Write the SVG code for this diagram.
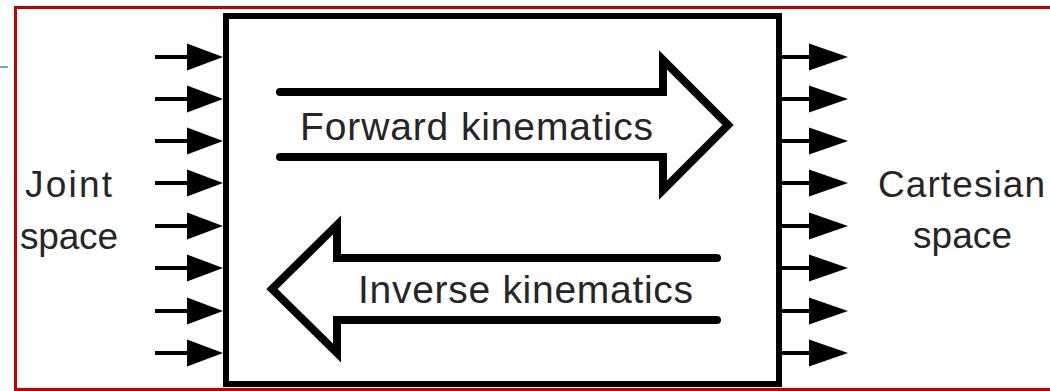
<svg xmlns="http://www.w3.org/2000/svg" width="1050" height="391" viewBox="0 0 1050 391">
<style>
.lbl{font-family:"Liberation Sans",Arial,sans-serif;font-size:39px;fill:#262626;}
.side{font-size:37px;}
.stub{stroke:#000;stroke-width:4;fill:none;}
.head{fill:#000;}
.big{stroke:#000;stroke-width:8;fill:#fff;stroke-linejoin:miter;stroke-linecap:round;}
</style>
<defs>
<g id="inArrow"><line class="stub" x1="155" y1="0" x2="190" y2="0"/><polygon class="head" points="187,-13.5 223,0 187,13.5"/></g>
<g id="outArrow"><line class="stub" x1="779" y1="0" x2="812" y2="0"/><polygon class="head" points="809,-13.5 848,0 809,13.5"/></g>
</defs>
<rect x="0" y="0" width="1050" height="391" fill="#fff"/>
<g id="frame">
<path d="M1052,7.5 L15.5,7.5 L15.5,389.5 L1052,389.5" fill="none" stroke="#c00000" stroke-width="3"/>
<line x1="0" y1="67" x2="8" y2="67" stroke="#5ab4c8" stroke-width="2"/>
</g>
<g id="connectors">
<use href="#inArrow" y="57"/>
<use href="#inArrow" y="99"/>
<use href="#inArrow" y="141"/>
<use href="#inArrow" y="183"/>
<use href="#inArrow" y="226"/>
<use href="#inArrow" y="268"/>
<use href="#inArrow" y="311"/>
<use href="#inArrow" y="353"/>
<use href="#outArrow" y="57"/>
<use href="#outArrow" y="99"/>
<use href="#outArrow" y="141"/>
<use href="#outArrow" y="183"/>
<use href="#outArrow" y="226"/>
<use href="#outArrow" y="268"/>
<use href="#outArrow" y="311"/>
<use href="#outArrow" y="353"/>
</g>
<g id="box">
<rect x="226" y="16" width="553" height="368" fill="none" stroke="#000" stroke-width="6"/>
</g>
<g id="forward">
<path class="big" d="M280,92 L663,92 L663,60 L728,125 L663,190 L663,157 L280,157"/>
<text class="lbl" x="300" y="140" textLength="353">Forward kinematics</text>
</g>
<g id="inverse">
<path class="big" d="M717,258 L337,258 L337,225 L272,289 L337,353 L337,320 L717,320"/>
<text class="lbl" x="358" y="303" textLength="335">Inverse kinematics</text>
</g>
<g id="joint">
<text class="lbl side" x="25" y="197" textLength="87">Joint</text>
<text class="lbl side" x="20" y="249" textLength="98">space</text>
</g>
<g id="cartesian">
<text class="lbl side" x="878" y="197" textLength="167">Cartesian</text>
<text class="lbl side" x="913" y="248" textLength="99">space</text>
</g>
</svg>
